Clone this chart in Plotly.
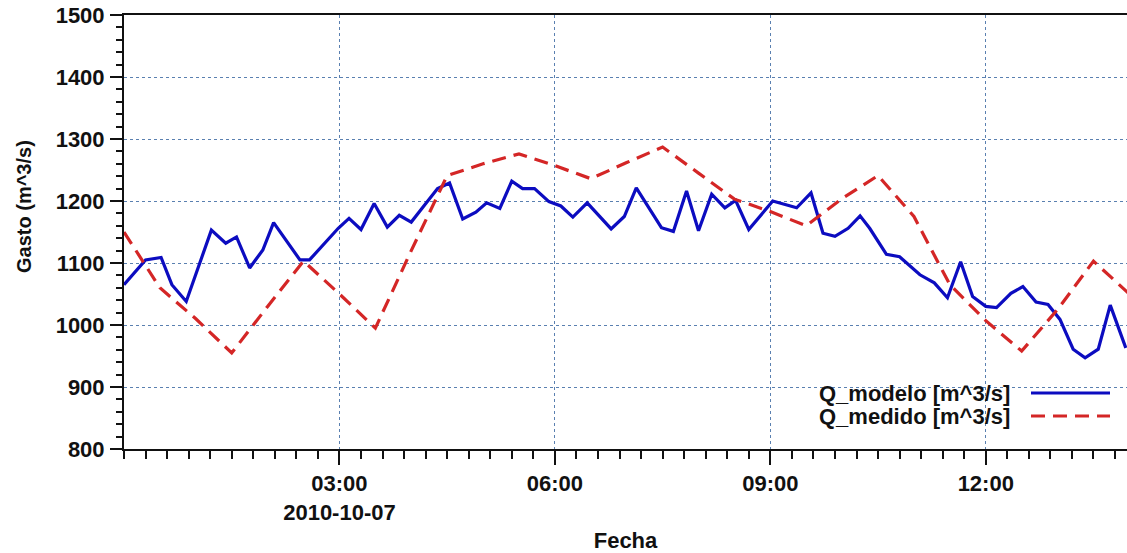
import plotly.graph_objects as go

# Modelled discharge (Q_modelo), irregular time steps on 2010-10-07
modelo_time = [
    "00:00", "00:18", "00:31", "00:40", "00:52", "01:13", "01:25", "01:34",
    "01:45", "01:56", "02:05", "02:27", "02:35", "02:46", "02:59", "03:08",
    "03:18", "03:29", "03:40", "03:50", "04:00", "04:11", "04:22", "04:32",
    "04:43", "04:54", "05:03", "05:14", "05:24", "05:33", "05:43", "05:55",
    "06:05", "06:15", "06:27", "06:47", "06:58", "07:08", "07:29", "07:39",
    "07:50", "08:00", "08:11", "08:22", "08:31", "08:42", "08:52", "09:02",
    "09:22", "09:34", "09:44", "09:54", "10:05", "10:15", "10:23", "10:37",
    "10:48", "11:05", "11:17", "11:28", "11:39", "11:49", "12:00", "12:09",
    "12:21", "12:31", "12:42", "12:52", "13:02", "13:13", "13:23", "13:34",
    "13:44", "13:57",
]
modelo_q = [
    1065, 1105, 1109, 1065, 1038, 1153, 1132, 1142,
    1092, 1121, 1165, 1105, 1105, 1129, 1156, 1172,
    1154, 1196, 1158, 1177, 1166, 1193, 1220, 1229,
    1171, 1182, 1197, 1188, 1232, 1220, 1220, 1199,
    1192, 1174, 1197, 1155, 1175, 1221, 1157, 1151,
    1216, 1152, 1211, 1189, 1201, 1154, 1177, 1200,
    1189, 1213, 1148, 1143, 1156, 1176, 1156, 1114,
    1110, 1081, 1068, 1044, 1102, 1046, 1030, 1028,
    1051, 1062, 1037, 1033, 1009, 961, 947, 961,
    1032, 963,
]

# Measured discharge (Q_medido), half-hourly
medido_time = [
    "00:00", "00:30", "01:00", "01:30", "02:00", "02:30", "03:00", "03:30",
    "04:00", "04:30", "05:00", "05:30", "06:00", "06:30", "07:00", "07:30",
    "08:00", "08:30", "09:00", "09:30", "10:00", "10:30", "11:00", "11:30",
    "12:00", "12:30", "13:00", "13:30", "14:00",
]
medido_q = [
    1150, 1060, 1010, 955, 1030, 1103, 1050, 995,
    1120, 1241, 1260, 1276, 1257, 1236, 1262, 1287,
    1245, 1203, 1183, 1160, 1204, 1241, 1175, 1065,
    1007, 958, 1025, 1103, 1050,
]

day = "2010-10-07"
tick_hours = ["03:00", "06:00", "09:00", "12:00"]
tick_text = ["03:00<br>2010-10-07", "06:00", "09:00", "12:00"]
series_names = ["Q_modelo [m^3/s]", "Q_medido [m^3/s]"]
y_title = "Gasto (m^3/s)"
x_title = "Fecha"

BLUE = "#0c0cc0"
RED = "#d42626"
GRID = "#5a80b0"
FONT = "Liberation Sans, Arial, sans-serif"

W, H = 1127, 553
ML, MR, MT, MB = 124, 0, 15, 104

fig = go.Figure()
fig.add_trace(go.Scatter(
    x=[f"{day} {t}" for t in modelo_time], y=modelo_q, mode="lines",
    name=series_names[0], line=dict(color=BLUE, width=3.2),
    showlegend=False,
))
fig.add_trace(go.Scatter(
    x=[f"{day} {t}" for t in medido_time], y=medido_q, mode="lines",
    name=series_names[1], line=dict(color=RED, width=3.2, dash="14px,8px"),
    showlegend=False,
))

# Legend drawn inside the plot: text on the left, line key on the right
plot_w = W - ML - MR
plot_h = H - MT - MB


def px_x(p):
    return (p - ML) / plot_w


def px_y(p):
    return 1 - (p - MT) / plot_h


legend_rows = [(series_names[0], BLUE, "solid", 393), (series_names[1], RED, "14px,8px", 416)]
for label, color, dash, ypix in legend_rows:
    fig.add_annotation(
        x=px_x(1012), y=px_y(ypix), xref="paper", yref="paper",
        xanchor="right", yanchor="middle", text=f"<b>{label}</b>",
        showarrow=False, font=dict(family=FONT, size=22, color="#111111"),
    )
    fig.add_shape(
        type="line", xref="paper", yref="paper",
        x0=px_x(1031), x1=px_x(1110), y0=px_y(ypix), y1=px_y(ypix),
        line=dict(color=color, width=3.2, dash=dash),
    )

# Vertical axis title, set slightly above the plot's mid-height
fig.add_annotation(
    x=px_x(24), y=px_y(207), xref="paper", yref="paper",
    xanchor="center", yanchor="middle", textangle=-90,
    text=f"<b>{y_title}</b>", showarrow=False,
    font=dict(family=FONT, size=20, color="#111111"),
)

fig.update_layout(
    width=W, height=H,
    margin=dict(l=ML, r=MR, t=MT, b=MB),
    paper_bgcolor="white", plot_bgcolor="white",
    font=dict(family=FONT, size=22, color="#111111"),
    xaxis=dict(
        type="date",
        range=[f"{day} 00:00", f"{day} 13:58"],
        tickvals=[f"{day} {t}" for t in tick_hours],
        ticktext=[f"<b>{t}</b>" for t in tick_text],
        ticks="outside", ticklen=14, tickwidth=1.5, tickcolor="#111111",
        ticklabelstandoff=0,
        showline=True, linecolor="#111111", linewidth=2, mirror=True,
        showgrid=True, gridcolor=GRID, gridwidth=1, griddash="3px,3px",
        zeroline=False,
        minor=dict(ticks="outside", ticklen=8, tickwidth=1.5, tickcolor="#111111",
                   dtick=18 * 60 * 1000, tick0=f"{day} 03:00", showgrid=False),
        title=dict(text=f"<b>{x_title}</b>", font=dict(size=22), standoff=14),
        tickfont=dict(size=22),
    ),
    yaxis=dict(
        range=[800, 1500], dtick=100, tick0=800,
        ticks="outside", ticklen=12, tickwidth=1.5, tickcolor="#111111",
        ticklabelstandoff=1,
        showline=True, linecolor="#111111", linewidth=2, mirror=False,
        showgrid=True, gridcolor=GRID, gridwidth=1, griddash="3px,3px",
        zeroline=False,
        minor=dict(ticks="outside", ticklen=6, tickwidth=1.5, tickcolor="#111111",
                   dtick=20, showgrid=False),
        tickprefix="<b>", ticksuffix="</b>",
        tickfont=dict(size=22),
    ),
)

fig.write_html("out.html")
